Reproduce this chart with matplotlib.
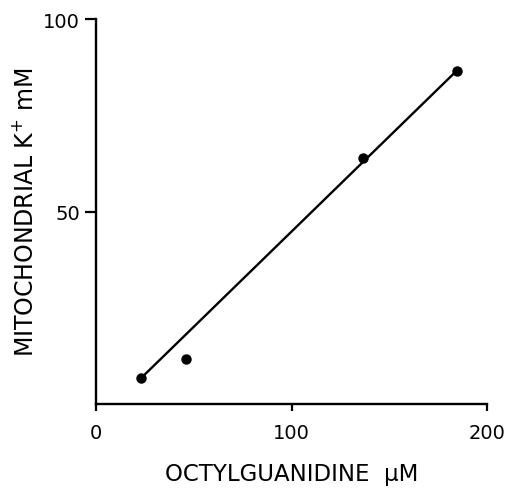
import matplotlib
matplotlib.use("Agg")
import matplotlib.pyplot as plt

# octylguanidine (uM) vs mitochondrial K+ (mM)
octyl_um = [23, 46, 136.5, 184.5]
k_mm = [6.7, 11.7, 64, 86.6]

# fitted line endpoints
fit_x = [23, 184.5]
fit_y = [6.7, 86.6]

x_ticks = [0, 100, 200]
y_ticks = [50, 100]

plt.rcParams['font.family'] = ['DejaVu Sans']

fig = plt.figure(figsize=(5.09, 4.89), dpi=100)
ax = fig.add_axes([0.1886, 0.1718, 0.957 - 0.1886, 0.959 - 0.1718])

ax.plot(fit_x, fit_y, color='black', lw=1.7, solid_capstyle='round')
ax.plot(octyl_um, k_mm, 'o', color='black', ms=6.5)

ax.set_xlim(0, 200)
ax.set_ylim(0, 100)
ax.set_xticks(x_ticks)
ax.set_yticks(y_ticks)
ax.spines['top'].set_visible(False)
ax.spines['right'].set_visible(False)
for s in ('left', 'bottom'):
    ax.spines[s].set_linewidth(1.7)
ax.tick_params(axis='y', width=1.6, length=8, labelsize=14, pad=3.5)
ax.tick_params(axis='x', width=1.6, length=5, labelsize=14, pad=9)

ax.set_xlabel('OCTYLGUANIDINE  μM', fontsize=16.5, labelpad=14)
ax.set_ylabel('MITOCHONDRIAL K$^{+}$ mM', fontsize=17, labelpad=4)

fig.savefig('out.png', dpi=100)
